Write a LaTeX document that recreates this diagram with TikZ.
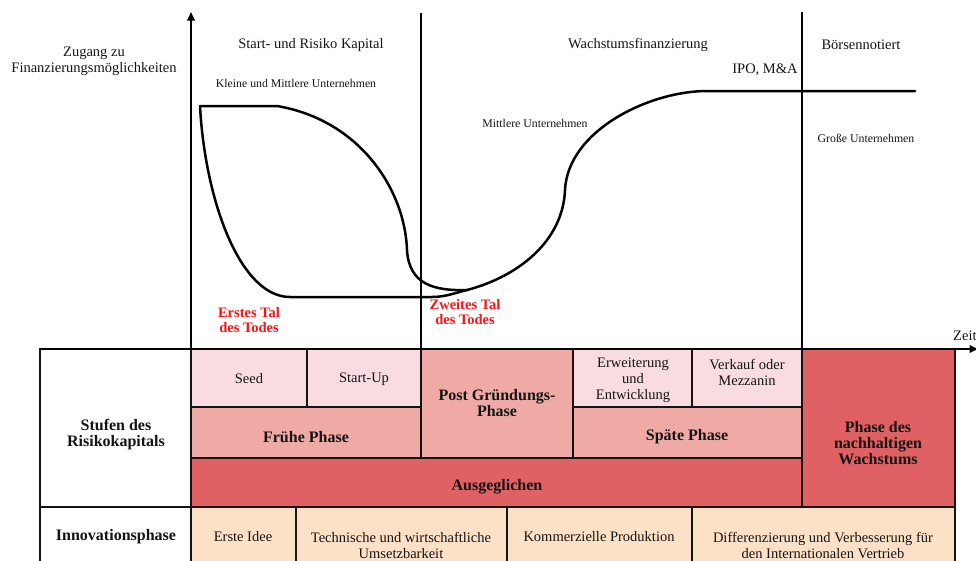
\documentclass[tikz,border=0pt]{standalone}
\usepackage{fontspec}
\setmainfont{Liberation Serif}
\usetikzlibrary{arrows.meta}
\definecolor{pinkL}{HTML}{F8DCDF}
\definecolor{pinkM}{HTML}{F0AAA5}
\definecolor{redD}{HTML}{DF6164}
\definecolor{peach}{HTML}{FDE1C6}
\definecolor{todred}{HTML}{FF0F0F}
\definecolor{ink}{HTML}{141414}
\tikzset{
  reg/.style={font=\fontsize{14.5}{16}\selectfont, align=center, text=ink, inner sep=0pt},
  bld/.style={font=\fontsize{16}{16}\selectfont\bfseries, align=center, text=ink, inner sep=0pt},
  smalltxt/.style={font=\fontsize{11.8}{14}\selectfont, text=ink, inner sep=0pt},
  tod/.style={font=\fontsize{14.5}{15.5}\selectfont\bfseries, text=todred, align=center, inner sep=0pt},
  axisline/.style={line width=2pt, draw=black, -{Triangle[length=8.5pt,width=7.5pt]}},
  divider/.style={line width=1.9pt, draw=black},
  curve/.style={line width=2.5pt, draw=black, line cap=round, line join=round},
  cellbox/.style={draw=ink, line width=1.3pt},
}
\begin{document}
\begin{tikzpicture}[x=1pt,y=-1pt]
\useasboundingbox (0,0) rectangle (976,560);
% ---------- table cells ----------
\filldraw[cellbox, fill=white] (40,349) rectangle (191,507);
\filldraw[cellbox, fill=pinkL] (191,349) rectangle (307,407);
\filldraw[cellbox, fill=pinkL] (307,349) rectangle (421,407);
\filldraw[cellbox, fill=pinkM] (421,349) rectangle (573,458);
\filldraw[cellbox, fill=pinkL] (573,349) rectangle (692,407);
\filldraw[cellbox, fill=pinkL] (692,349) rectangle (802,407);
\filldraw[cellbox, fill=redD] (802,349) rectangle (955,507);
\filldraw[cellbox, fill=pinkM] (191,407) rectangle (421,458);
\filldraw[cellbox, fill=pinkM] (573,407) rectangle (802,458);
\filldraw[cellbox, fill=redD] (191,458) rectangle (802,507);
\filldraw[cellbox, fill=white] (40,507) rectangle (191,575);
\filldraw[cellbox, fill=peach] (191,507) rectangle (296,575);
\filldraw[cellbox, fill=peach] (296,507) rectangle (507,575);
\filldraw[cellbox, fill=peach] (507,507) rectangle (692,575);
\filldraw[cellbox, fill=peach] (692,507) rectangle (955,575);
% ---------- table texts ----------
\node[reg] (seed) at (249,379) {Seed};
\node[reg] (startup) at (364,379) {Start-Up};
\node[bld] (post) at (497,403) {Post Gründungs-\\Phase};
\node[reg] (erw) at (633,380) {Erweiterung\\und\\Entwicklung};
\node[reg] (verk) at (747,372) {Verkauf oder\\Mezzanin};
\node[bld] (frueh) at (306,437) {Frühe Phase};
\node[bld] (spaet) at (687,437) {Späte Phase};
\node[bld] (ausg) at (497,487) {Ausgeglichen};
\node[bld] (nach) at (878,443) {Phase des\\nachhaltigen\\Wachstums};
\node[bld] (stufen) at (116,435) {Stufen des\\Risikokapitals};
\node[bld] (innov) at (116,537) {Innovationsphase};
\node[reg] (idee) at (243,537) {Erste Idee};
\node[reg] (tech) at (401,545) {Technische und wirtschaftliche\\Umsetzbarkeit};
\node[reg] (komm) at (599,537) {Kommerzielle Produktion};
\node[reg] (diff) at (823,545) {Differenzierung und Verbesserung für\\den Internationalen Vertrieb};
% ---------- axes and dividers ----------
\coordinate (orig) at (191,349);
\coordinate (ytop) at (191,12);
\coordinate (tleft) at (40,349);
\coordinate (tright) at (978,349);
\draw[axisline] (orig) -- (ytop);
\draw[axisline, line width=1.7pt] (tleft) -- (tright);
\coordinate (d1t) at (421,13);
\coordinate (d1b) at (421,349);
\coordinate (d2t) at (802,12);
\coordinate (d2b) at (802,349);
\draw[divider] (d1t) -- (d1b);
\draw[divider, line width=1.6pt] (d2t) -- (d2b);
% ---------- top texts ----------
\node[reg] (zugang) at (94,61) {Zugang zu\\Finanzierungsmöglichkeiten};
\node[reg] (startrisk) at (311,45) {Start- und Risiko Kapital};
\node[smalltxt] (kmu) at (296,83) {Kleine und Mittlere Unternehmen};
\node[reg] (wachs) at (638,45) {Wachstumsfinanzierung};
\node[reg] (boerse) at (861,45) {Börsennotiert};
\node[reg] (ipo) at (765,70) {IPO, M\&A};
\node[smalltxt] (mittl) at (535,123) {Mittlere Unternehmen};
\node[smalltxt] (gross) at (866,138) {Große Unternehmen};
\node[tod] (tal1) at (249,320) {Erstes Tal\\des Todes};
\node[tod] (tal2) at (465,312) {Zweites Tal\\des Todes};
\node[reg, anchor=west] (zeit) at (953,336) {Zeit};
% ---------- curves ----------
\draw[curve] (200,106) -- (277,106)
  .. controls (360,120) and (405,190) .. (407,250)
  .. controls (409,285) and (435,291) .. (467,290)
  .. controls (520,276) and (563,240) .. (565,190)
  .. controls (568,130) and (650,91) .. (707,91)
  -- (915,91);
\draw[curve] (200,106)
  .. controls (205,200) and (240,297) .. (290,297)
  -- (432,297)
  .. controls (445,297) and (455,293) .. (467,290);
\end{tikzpicture}
\end{document}
